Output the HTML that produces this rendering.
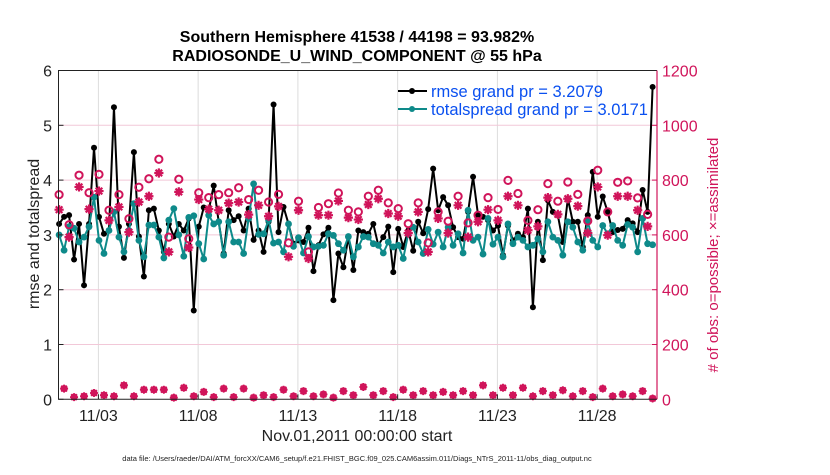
<!DOCTYPE html>
<html><head><meta charset="utf-8"><style>
body{margin:0;background:#fff;}
svg text{font-family:"Liberation Sans",Arial,sans-serif;}
</style></head><body>
<svg id="chart" width="830" height="470" viewBox="0 0 830 470" xmlns="http://www.w3.org/2000/svg">
<rect width="830" height="470" fill="#fff"/>
<g id="grid"></g>
<g id="series"></g>
<g id="axes"></g>
<text x="357" y="42" text-anchor="middle" font-size="16" font-weight="bold">Southern Hemisphere 41538 / 44198 = 93.982%</text>
<text x="357" y="61" text-anchor="middle" font-size="16" font-weight="bold">RADIOSONDE_U_WIND_COMPONENT @ 55 hPa</text>
<text x="357" y="441" text-anchor="middle" font-size="16" fill="#222">Nov.01,2011 00:00:00 start</text>
<text x="357" y="461" text-anchor="middle" font-size="7.5" fill="#222">data file: /Users/raeder/DAI/ATM_forcXX/CAM6_setup/f.e21.FHIST_BGC.f09_025.CAM6assim.011/Diags_NTrS_2011-11/obs_diag_output.nc</text>
<text transform="translate(39,234) rotate(-90)" text-anchor="middle" font-size="16" fill="#222">rmse and totalspread</text>
<text transform="translate(718,255) rotate(-90)" text-anchor="middle" font-size="15" fill="#d0145a"># of obs: o=possible; ×=assimilated</text>
<g>
<line x1="398" y1="91" x2="427" y2="91" stroke="#000" stroke-width="2"/><circle cx="412" cy="91" r="3" fill="#000"/>
<text x="431" y="97" font-size="16.5" fill="#0a50f0">rmse grand pr = 3.2079</text>
<line x1="398" y1="109" x2="427" y2="109" stroke="#0e8a8a" stroke-width="2"/><circle cx="412" cy="109" r="3" fill="#0e8a8a"/>
<text x="431" y="115" font-size="16.5" fill="#0a50f0">totalspread grand pr = 3.0171</text>
</g>
</svg>
<script>
const rmse=[3.2,3.33,3.36,2.55,3.2,2.08,3.2,4.59,3.33,3.02,3.08,5.33,3.15,2.58,3.2,4.51,2.97,2.24,3.45,3.48,3.08,2.69,3.2,2.97,3.2,3.08,3.3,1.62,3.15,3.5,3.45,3.9,
3.24,2.66,3.45,3.27,3.34,3.08,3.48,2.91,3.08,2.69,3.24,5.38,3.05,3.51,3.2,2.84,2.9,2.87,3.13,2.34,2.81,3.01,3.13,1.81,2.66,2.41,2.96,2.36,3.08,3.05,
3.02,3.2,2.81,2.96,3.15,2.32,3.11,2.78,3.08,2.71,3.24,3.03,3.47,4.21,3.45,3.69,3.54,3.14,2.96,2.93,3.42,4.06,3.36,3.33,3.27,3.08,3.17,2.63,3.17,2.9,
3.02,2.96,3.48,1.68,3.24,2.54,3.63,3.42,3.36,2.87,3.66,3.24,3.24,2.78,3.36,4.15,3.33,3.7,3.42,3.05,3.09,3.11,3.27,3.21,3.05,3.82,3.42,5.7];
const totalspread=[3.0,2.72,3.15,3.12,2.87,2.96,3.15,3.69,2.9,2.66,3.08,3.42,2.96,2.69,3.08,3.57,2.9,2.6,3.18,3.18,2.96,2.58,3.27,3.48,3.0,2.61,3.32,3.35,2.84,2.56,3.36,3.2,
3.24,2.63,3.24,2.87,2.87,2.66,3.3,3.93,3.01,3.02,3.27,2.85,2.87,2.69,3.2,2.79,2.95,2.67,2.97,2.78,2.79,2.81,3.02,2.99,2.84,2.72,2.97,2.6,2.78,2.97,
2.96,2.84,2.81,2.67,2.87,2.78,2.81,2.57,3.02,3.14,2.87,2.66,3.1,2.83,3.05,2.78,3.14,2.81,3.02,2.67,3.45,2.9,2.96,2.65,3.3,2.83,2.96,2.6,3.2,2.84,
2.96,2.9,2.78,2.81,2.93,2.69,3.24,2.96,2.9,2.63,3.24,3.14,2.87,2.72,3.24,2.9,2.78,3.17,3.02,3.17,2.9,2.81,3.19,3.14,2.69,3.3,2.84,2.82];
const possible=[747,39,637,8,818,11,754,23,821,15,690,11,747,51,659,11,774,35,805,35,876,35,592,6,803,42,586,11,754,27,736,8,747,39,754,8,772,39,729,6,763,15,720,8,748,35,571,11,723,30,538,11,700,18,714,6,753,30,690,15,684,45,741,15,763,30,717,8,696,35,641,15,717,30,571,15,684,27,650,15,741,30,644,15,672,51,736,15,693,42,799,15,751,42,653,11,692,30,787,15,723,33,793,11,748,30,651,8,836,39,684,11,792,18,797,11,735,30,675,3];
const assimilated=[692,39,592,8,775,11,694,23,760,15,653,11,702,51,610,11,720,35,741,35,826,35,538,6,757,42,554,11,729,27,694,8,690,39,716,8,720,39,674,6,708,15,668,8,704,35,520,11,690,30,514,11,672,18,672,6,724,30,663,15,656,45,711,15,732,30,678,8,668,35,607,15,684,30,538,15,660,27,607,15,708,30,592,15,648,51,692,15,653,42,741,15,708,42,617,11,631,30,736,15,675,33,732,11,705,30,607,8,775,39,599,11,741,18,741,11,690,30,631,3];
const xTickLabels=["11/03","11/08","11/13","11/18","11/23","11/28"];
const xTickDays=[2,7,12,17,22,27];
const yLeftTicks=[0,1,2,3,4,5,6];
const yRightTicks=[0,200,400,600,800,1000,1200];

const NS="http://www.w3.org/2000/svg";
const X0=58.5,X1=657,Y0=399.3,Y1=70.5;
const xDay=d=>X0+(X1-X0)*d/30;
const xIdx=i=>xDay(0.03+i*0.25);
const yL=v=>Y0-(Y0-Y1)*v/6;
const yR=v=>Y0-(Y0-Y1)*v/1200;
const CR="#d0145a",TL="#0e8a8a";
function mk(tag,attrs,parent){const e=document.createElementNS(NS,tag);for(const k in attrs)e.setAttribute(k,attrs[k]);parent.appendChild(e);return e;}
const grid=document.getElementById('grid'),ser=document.getElementById('series'),ax=document.getElementById('axes');

xTickDays.forEach((d,j)=>{
  const l=mk('line',{x1:xDay(d),x2:xDay(d),y1:Y1,y2:Y0,stroke:'#dcdcdc','stroke-width':1},grid);
  
  
  const t=mk('line',{x1:xDay(d),x2:xDay(d),y1:Y0,y2:Y0-5,stroke:'#222','stroke-width':1},ax);
  
  
  const tx=mk('text',{x:xDay(d),y:421,'text-anchor':'middle','font-size':16,fill:'#222'},ax);
  tx.textContent=xTickLabels[j];
  
  
});
yLeftTicks.forEach(v=>{
  if(v>0&&v<6){const g=mk('line',{x1:X0,x2:X1,y1:yL(v),y2:yL(v),stroke:'#f2c8d8','stroke-width':1},grid);
  
  }
  const t=mk('line',{x1:X0,x2:X0+5,y1:yL(v),y2:yL(v),stroke:'#222'},ax);
  
  
  const tx=mk('text',{x:52,y:yL(v)+6,'text-anchor':'end','font-size':16,fill:'#222'},ax);
  tx.textContent=String(v);
  
  
});
yRightTicks.forEach(v=>{
  const t=mk('line',{x1:X1-5,x2:X1,y1:yR(v),y2:yR(v),stroke:CR},ax);
  
  
  const tx=mk('text',{x:662,y:yR(v)+6,'text-anchor':'start','font-size':16,fill:CR},ax);
  tx.textContent=String(v);
  
  
});
const box1=mk('path',{d:`M${X1},${Y1}H${X0}V${Y0}H${X1}`,fill:'none',stroke:'#222','stroke-width':1},ax);


const rax=mk('line',{x1:X1,x2:X1,y1:Y1,y2:Y0,stroke:CR,'stroke-width':1.2},ax);



function drawLine(vals,color,name,r){
  const p=mk('polyline',{points:vals.map((v,i)=>xIdx(i)+','+yL(v)).join(' '),fill:'none',stroke:color,'stroke-width':2,'stroke-linejoin':'round'},ser);
  
  
  vals.forEach((v,i)=>{const c=mk('circle',{cx:xIdx(i),cy:yL(v),r:r,fill:color},ser);
    
    });
}
drawLine(rmse,'#000','rmse',3);
drawLine(totalspread,TL,'totalspread',3.4);

possible.forEach((v,i)=>{
  const low=v<150;
  const c=mk('circle',{cx:xIdx(i),cy:yR(v),r:low?2.8:3.6,fill:'none',stroke:CR,'stroke-width':low?1.6:2},ser);
  
  
});
assimilated.forEach((v,i)=>{
  const low=v<150;
  const x=xIdx(i),y=yR(v),s=low?4:4.6,d=low?2.9:3.3;
  const p=mk('path',{d:`M${x-s},${y}H${x+s}M${x},${y-s}V${y+s}M${x-d},${y-d}L${x+d},${y+d}M${x-d},${y+d}L${x+d},${y-d}`,stroke:CR,'stroke-width':low?1.8:2.2,fill:'none'},ser);
  
  
});
</script>
</body></html>
